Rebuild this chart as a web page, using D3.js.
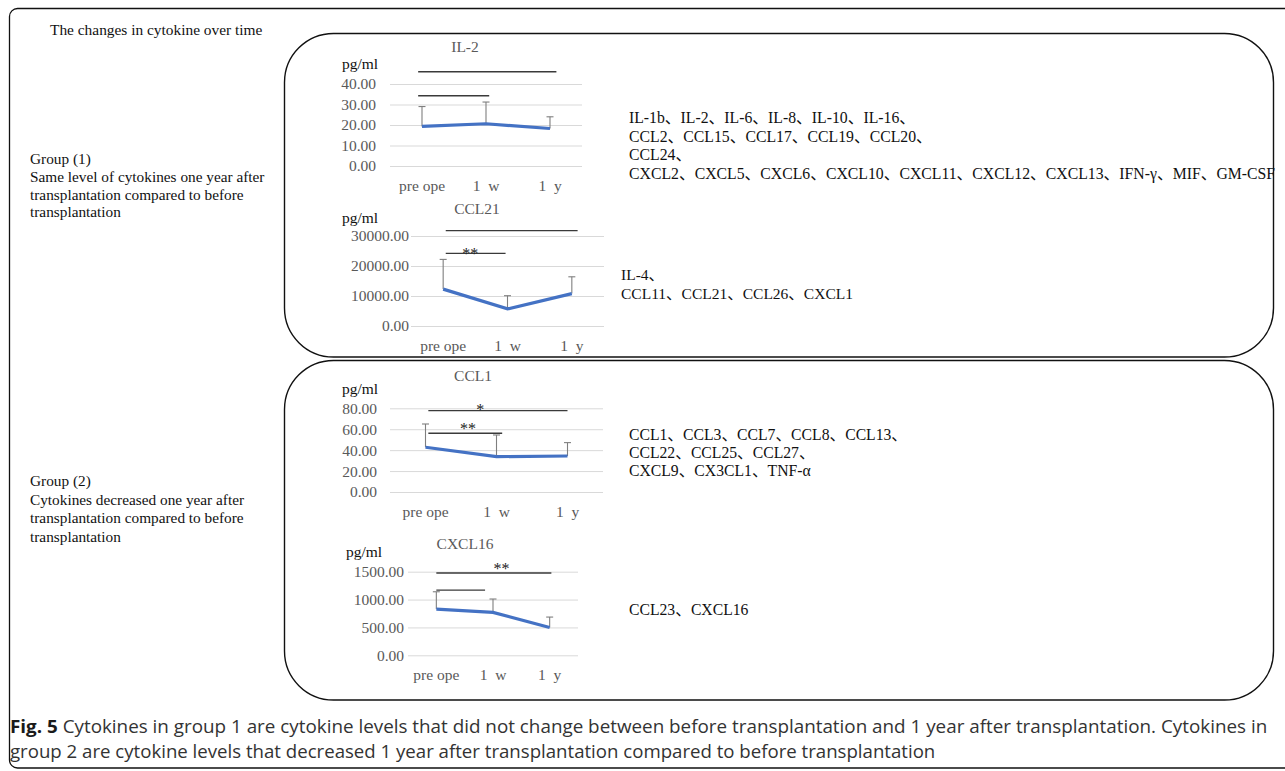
<!DOCTYPE html>
<html><head><meta charset="utf-8">
<script src="https://cdn.jsdelivr.net/npm/d3@7"></script>
<style>
html,body{margin:0;padding:0;background:#fff;}
svg{display:block;}
</style>
</head><body>
<svg id="fig" width="1285" height="771"></svg>
<script>
// ---------------- data ----------------
const timepoints = ["pre ope", "1\u2002w", "1\u2002y"];

const il2Mean  = [19.3, 20.6, 18.3];
const il2Upper = [29.0, 31.2, 24.0];
const il2Ticks = [0, 10, 20, 30, 40];
const il2Sig   = [{from: -0.06, to: 2.1, level: 46, label: ""},
                  {from: -0.06, to: 1.05, level: 34.3, label: ""}];

const ccl21Mean  = [12300, 5700, 10800];
const ccl21Upper = [22200, 10100, 16400];
const ccl21Ticks = [0, 10000, 20000, 30000];
const ccl21Sig   = [{from: 0.04, to: 2.09, level: 31800, label: ""},
                    {from: 0.04, to: 0.97, level: 24200, label: "**", at: 0.42}];

const ccl1Mean  = [42.8, 33.8, 34.4];
const ccl1Upper = [65.0, 54.5, 47.2];
const ccl1Ticks = [0, 20, 40, 60, 80];
const ccl1Sig   = [{from: 0.04, to: 2.0, level: 77.8, label: "*", at: 0.77},
                   {from: 0.04, to: 1.08, level: 56.2, label: "**", at: 0.6}];

const cxcl16Mean  = [830, 770, 500];
const cxcl16Upper = [1140, 1010, 686];
const cxcl16Ticks = [0, 500, 1000, 1500];
const cxcl16Sig   = [{from: 0, to: 2.03, level: 1476, label: "**", at: 1.15},
                     {from: 0, to: 0.86, level: 1170, label: ""}];

const figTitle = "The changes in cytokine over time";
const group1Text = ["Group (1)", "Same level of cytokines one year after", "transplantation compared to before", "transplantation"];
const group2Text = ["Group (2)", "Cytokines decreased one year after", "transplantation compared to before", "transplantation"];

const group1ListA = ["IL-1b、IL-2、IL-6、IL-8、IL-10、IL-16、",
                     "CCL2、CCL15、CCL17、CCL19、CCL20、",
                     "CCL24、",
                     "CXCL2、CXCL5、CXCL6、CXCL10、CXCL11、CXCL12、CXCL13、IFN-γ、MIF、GM-CSF"];
const group1ListB = ["IL-4、", "CCL11、CCL21、CCL26、CXCL1"];
const group2ListA = ["CCL1、CCL3、CCL7、CCL8、CCL13、", "CCL22、CCL25、CCL27、", "CXCL9、CX3CL1、TNF-α"];
const group2ListB = ["CCL23、CXCL16"];

const captionBold = "Fig. 5";
const captionLine1 = " Cytokines in group 1 are cytokine levels that did not change between before transplantation and 1 year after transplantation. Cytokines in";
const captionLine2 = "group 2 are cytokine levels that decreased 1 year after transplantation compared to before transplantation";

// ---------------- layout ----------------
const SERIF = "'Liberation Serif','Times New Roman','Noto Sans CJK SC',serif";
const svg = d3.select("#fig");

// frames
svg.append("rect").attr("x", 9.5).attr("y", 8.5).attr("width", 1290).attr("height", 759.5)
  .attr("rx", 8).attr("fill", "none").attr("stroke", "#111").attr("stroke-width", 1.3);
svg.append("rect").attr("x", 284.5).attr("y", 33.5).attr("width", 989).attr("height", 323.5)
  .attr("rx", 49).attr("fill", "none").attr("stroke", "#111").attr("stroke-width", 1.4);
svg.append("rect").attr("x", 284.5).attr("y", 360.5).attr("width", 989).attr("height", 339.5)
  .attr("rx", 49).attr("fill", "none").attr("stroke", "#111").attr("stroke-width", 1.4);

function textBlock(lines, x, y0, dy, size) {
  const t = svg.append("g");
  lines.forEach((s, i) => {
    t.append("text").attr("x", x).attr("y", y0 + i * dy)
      .attr("font-family", SERIF).attr("font-size", size).attr("fill", "#111").text(s);
  });
}

textBlock([figTitle], 50, 35, 0, 15.4);
textBlock(group1Text, 30, 164, 17.8, 15.3);
textBlock(group2Text, 30, 486, 18.6, 15.3);
textBlock(group1ListA, 629, 123, 18.5, 15.75);
textBlock(group1ListB, 621, 279.5, 19, 15.5);
textBlock(group2ListA, 629, 439.5, 18, 15.7);
textBlock(group2ListB, 629, 614.5, 18, 15.7);

// charts
function drawChart(name, mean, upper, ticks, sig, L) {
  const g = svg.append("g");
  const x = d3.scaleBand().domain(timepoints).range([L.left, L.right]);
  const bw = x.bandwidth();
  const cx = d => x(d) + bw / 2;
  const xi = d3.scaleLinear().domain([0, 2]).range([cx(timepoints[0]), cx(timepoints[2])]);
  const y = d3.scaleLinear().domain([0, d3.max(ticks)]).range([L.zero, L.top]);

  // gridlines
  const grid = g.append("g").attr("transform", `translate(${L.left},0)`)
    .call(d3.axisLeft(y).tickValues(ticks).tickSize(-(L.right - L.left)).tickFormat(""));
  grid.select(".domain").remove();
  grid.selectAll("line").attr("stroke", "#d9d9d9").attr("stroke-width", 1);

  // y labels
  const ya = g.append("g").attr("transform", `translate(${L.labelRight},0)`)
    .call(d3.axisLeft(y).tickValues(ticks).tickSize(0).tickPadding(0).tickFormat(d3.format(".2f")));
  ya.select(".domain").remove();
  ya.selectAll("text").attr("font-family", SERIF).attr("font-size", 15.5).attr("fill", "#595959");

  // x labels
  const xa = g.append("g").attr("transform", `translate(0,${L.zero})`)
    .call(d3.axisBottom(x).tickSize(0).tickPadding(14));
  xa.select(".domain").remove();
  xa.selectAll("text").attr("font-family", SERIF).attr("font-size", 15.5).attr("fill", "#595959")
    .style("white-space", "pre");

  // title and unit
  g.append("text").attr("x", L.title[0]).attr("y", L.title[1]).attr("text-anchor", "middle")
    .attr("font-family", SERIF).attr("font-size", 15.5).attr("fill", "#595959").text(name);
  g.append("text").attr("x", L.unit[0]).attr("y", L.unit[1])
    .attr("font-family", SERIF).attr("font-size", 15.5).attr("fill", "#111").text("pg/ml");

  // significance brackets
  sig.forEach((s, i) => {
    g.append("line").attr("x1", xi(s.from)).attr("x2", xi(s.to))
      .attr("y1", y(s.level)).attr("y2", y(s.level))
      .attr("stroke", "#3a3a3a").attr("stroke-width", 1.4);
    if (s.label) {
      g.append("text").attr("x", xi(s.at)).attr("y", y(s.level) + L.sigLift[i])
        .attr("text-anchor", "middle").attr("font-family", SERIF).attr("font-size", 16)
        .attr("fill", "#222").text(s.label);
    }
  });

  // error bars (upper only)
  const eb = g.append("g").attr("stroke", "#7f7f7f").attr("stroke-width", 1.1);
  timepoints.forEach((t, i) => {
    eb.append("line").attr("x1", cx(t)).attr("x2", cx(t)).attr("y1", y(mean[i])).attr("y2", y(upper[i]));
    eb.append("line").attr("x1", cx(t) - 3.5).attr("x2", cx(t) + 3.5).attr("y1", y(upper[i])).attr("y2", y(upper[i]));
  });

  // mean line
  g.append("path").datum(mean)
    .attr("d", d3.line().x((d, i) => cx(timepoints[i])).y(d => y(d)))
    .attr("fill", "none").attr("stroke", "#4472c4").attr("stroke-width", 3.2);
}

drawChart("IL-2", il2Mean, il2Upper, il2Ticks, il2Sig,
  {left: 390, right: 582, zero: 166, top: 84, labelRight: 376, title: [465, 52], unit: [342, 69], sigLift: [0, 0]});
drawChart("CCL21", ccl21Mean, ccl21Upper, ccl21Ticks, ccl21Sig,
  {left: 411, right: 604, zero: 326, top: 236, labelRight: 409, title: [477, 214], unit: [342, 223], sigLift: [0, 6]});
drawChart("CCL1", ccl1Mean, ccl1Upper, ccl1Ticks, ccl1Sig,
  {left: 390, right: 603, zero: 492, top: 408.3, labelRight: 377, title: [473, 381], unit: [342, 394], sigLift: [4, 1]});
drawChart("CXCL16", cxcl16Mean, cxcl16Upper, cxcl16Ticks, cxcl16Sig,
  {left: 408, right: 578, zero: 655.3, top: 571.7, labelRight: 404, title: [465, 549], unit: [346, 557], sigLift: [1, 0]});

// caption
const cap = svg.append("g").attr("font-family", "'Open Sans','Noto Sans',sans-serif").attr("font-size", 17.5).attr("fill", "#333");
const c1 = cap.append("text").attr("x", 0).attr("y", 0);
c1.append("tspan").attr("font-weight", "bold").attr("fill", "#1a1a1a").text(captionBold);
c1.append("tspan").text(captionLine1);
const c2 = cap.append("text").attr("x", 0).attr("y", 0).text(captionLine2);
const sx1 = 1258 / c1.node().getComputedTextLength();
const sx2 = 926 / c2.node().getComputedTextLength();
c1.attr("transform", `translate(10,733) scale(${sx1},1)`);
c2.attr("transform", `translate(10,758) scale(${sx2},1)`);
</script>
</body></html>
